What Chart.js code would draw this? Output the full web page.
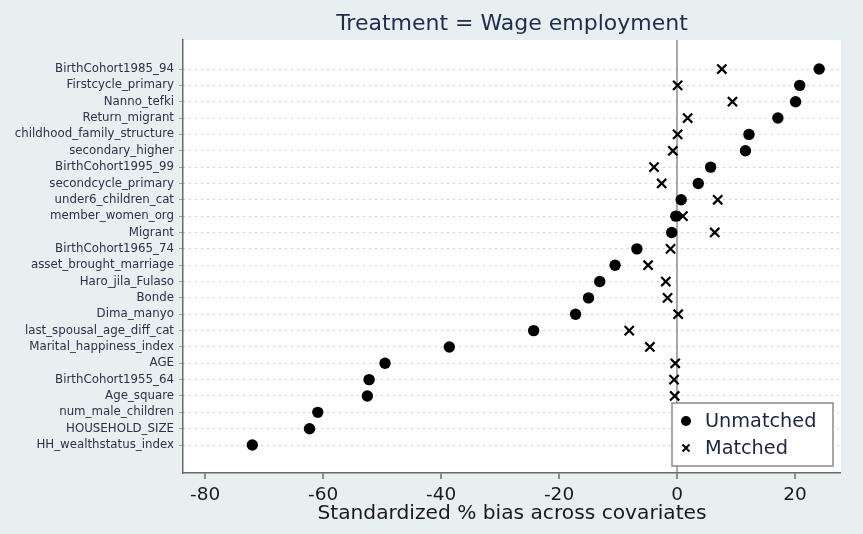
<!DOCTYPE html>
<html>
<head>
<meta charset="utf-8">
<script src="https://cdn.jsdelivr.net/npm/chart.js@4.4.0/dist/chart.umd.min.js"></script>
<style>
  html, body { margin: 0; padding: 0; background: #e8eff1; }
  #wrap { width: 863px; height: 534px; }
</style>
</head>
<body>
<div id="wrap"><canvas id="chart" width="863" height="534"></canvas></div>
<script>
// covariates, top to bottom
const covariates = [
  'BirthCohort1985_94', 'Firstcycle_primary', 'Nanno_tefki', 'Return_migrant',
  'childhood_family_structure', 'secondary_higher', 'BirthCohort1995_99', 'secondcycle_primary',
  'under6_children_cat', 'member_women_org', 'Migrant', 'BirthCohort1965_74',
  'asset_brought_marriage', 'Haro_jila_Fulaso', 'Bonde', 'Dima_manyo',
  'last_spousal_age_diff_cat', 'Marital_happiness_index', 'AGE', 'BirthCohort1955_64',
  'Age_square', 'num_male_children', 'HOUSEHOLD_SIZE', 'HH_wealthstatus_index'
];

// standardized % bias before matching
const unmatched = [
  24.1, 20.8, 20.1, 17.1, 12.2, 11.6, 5.7, 3.6,
  0.7, -0.2, -0.9, -6.8, -10.5, -13.1, -15.0, -17.2,
  -24.3, -38.6, -49.5, -52.2, -52.5, -60.9, -62.3, -72.0
];

// after matching (last three sit behind the legend)
const matched = [
  7.6, 0.1, 9.4, 1.8, 0.1, -0.7, -3.9, -2.6,
  6.9, 1.0, 6.4, -1.1, -4.9, -1.9, -1.6, 0.2,
  -8.1, -4.6, -0.3, -0.5, -0.4, 0.3, 0.5, 0.2
];

const xTicks = [-80, -60, -40, -20, 0, 20];

const FONT = '"DejaVu Sans", "Liberation Sans", Arial, sans-serif';

const toPoints = vals => vals.map((v, i) => ({ x: v, y: i }));

const bgPlugin = {
  id: 'bg',
  beforeDraw(chart) {
    const { ctx, chartArea: a } = chart;
    ctx.save();
    ctx.fillStyle = '#e8eff1';
    ctx.fillRect(0, 0, chart.width, chart.height);
    ctx.fillStyle = '#ffffff';
    ctx.fillRect(a.left, a.top, a.right - a.left, a.bottom - a.top);
    ctx.restore();
  }
};

// stata-style legend box in the lower right of the plot
const boxLegend = {
  id: 'boxLegend',
  afterDraw(chart) {
    const { ctx, chartArea: a } = chart;
    const w = 161, h = 63;
    const x0 = a.right - 8 - w, y0 = a.bottom - 7 - h;
    ctx.save();
    ctx.fillStyle = '#ffffff';
    ctx.fillRect(x0, y0, w, h);
    ctx.strokeStyle = '#8a8a8a';
    ctx.lineWidth = 1.5;
    ctx.strokeRect(x0, y0, w, h);
    ctx.font = '19.3px ' + FONT;
    ctx.textBaseline = 'middle';
    chart.data.datasets.forEach((ds, i) => {
      const cy = y0 + 18 + i * 27;
      const cx = x0 + 14;
      ctx.fillStyle = '#000';
      ctx.strokeStyle = '#000';
      if (ds.pointStyle === 'circle') {
        ctx.beginPath();
        ctx.arc(cx, cy, 5, 0, Math.PI * 2);
        ctx.fill();
      } else {
        ctx.lineWidth = 2;
        ctx.beginPath();
        ctx.moveTo(cx - 3.5, cy - 3.5); ctx.lineTo(cx + 3.5, cy + 3.5);
        ctx.moveTo(cx + 3.5, cy - 3.5); ctx.lineTo(cx - 3.5, cy + 3.5);
        ctx.stroke();
      }
      ctx.fillStyle = '#1d2540';
      ctx.fillText(ds.label, x0 + 33, cy + 1);
    });
    ctx.restore();
  }
};

new Chart(document.getElementById('chart'), {
  type: 'scatter',
  data: {
    datasets: [
      {
        label: 'Unmatched',
        data: toPoints(unmatched),
        pointStyle: 'circle',
        pointRadius: 5.7,
        backgroundColor: '#000',
        borderColor: '#000',
        borderWidth: 0
      },
      {
        label: 'Matched',
        data: toPoints(matched),
        pointStyle: 'crossRot',
        pointRadius: 6.5,
        backgroundColor: '#000',
        borderColor: '#000',
        borderWidth: 2.2
      }
    ]
  },
  options: {
    responsive: false,
    devicePixelRatio: 1,
    animation: false,
    layout: { padding: { left: 0, right: 22, top: 0, bottom: 0 } },
    plugins: {
      legend: { display: false },
      tooltip: { enabled: false },
      title: {
        display: true,
        fullSize: false,
        text: 'Treatment = Wage employment',
        color: '#1e2d4e',
        font: { family: FONT, size: 22, weight: 'normal', lineHeight: 1.2 },
        padding: { top: 11, bottom: 2.6 }
      }
    },
    scales: {
      x: {
        type: 'linear',
        min: -83.75,
        max: 27.8,
        afterBuildTicks: scale => { scale.ticks = xTicks.map(v => ({ value: v })); },
        afterFit: scale => { scale.height = 61; },
        ticks: {
          color: '#1a1a1a',
          font: { family: FONT, size: 18.5 },
          padding: 5
        },
        grid: {
          drawOnChartArea: true,
          color: c => (c.tick && c.tick.value === 0 ? '#a9a9a9' : 'rgba(0,0,0,0)'),
          lineWidth: c => (c.tick && c.tick.value === 0 ? 2 : 0),
          tickColor: '#6a6a6a',
          tickLength: 6,
          tickWidth: 1.5
        },
        border: { display: true, color: '#6a6a6a', width: 1.5 },
        title: {
          display: true,
          text: 'Standardized % bias across covariates',
          color: '#1a1a1a',
          font: { family: FONT, size: 20.2 },
          padding: { top: 0, bottom: 8 }
        }
      },
      y: {
        type: 'linear',
        reverse: true,
        min: -1.774,
        max: 24.71,
        afterBuildTicks: scale => { scale.ticks = covariates.map((_, i) => ({ value: i })); },
        afterFit: scale => { scale.width = 183; },
        ticks: {
          autoSkip: false,
          color: '#2b3147',
          font: { family: FONT, size: 11.8 },
          padding: 5,
          callback: v => covariates[v]
        },
        grid: {
          color: '#a0a0a0',
          lineWidth: 1,
          tickColor: '#a0a0a0',
          tickLength: 4
        },
        border: { display: true, color: '#6a6a6a', width: 1.5, dash: [1, 5] }
      }
    }
  },
  plugins: [bgPlugin, boxLegend]
});
</script>
</body>
</html>
